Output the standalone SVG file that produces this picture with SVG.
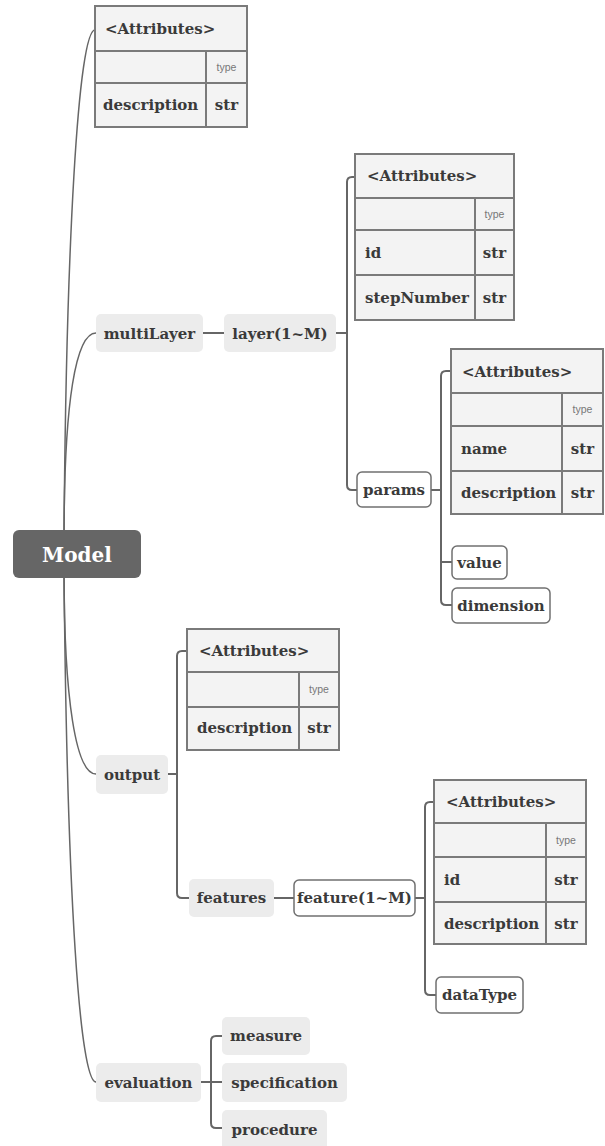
<svg xmlns="http://www.w3.org/2000/svg" width="605" height="1146" viewBox="0 0 605 1146">
<style>
.t{font-family:"DejaVu Serif","Liberation Serif",serif;font-weight:bold;font-size:15px;fill:#3a3a3a}
.c{text-anchor:middle}
.ty{font-family:"Liberation Sans","DejaVu Sans",sans-serif;font-size:10.5px;fill:#777;text-anchor:middle}
.tb{fill:#f3f3f3;stroke:#7a7a7a;stroke-width:2}
.tl{stroke:#7a7a7a;stroke-width:2;fill:none}
.g{fill:#ececec}
.w{fill:#fff;stroke:#707070;stroke-width:1.5}
.ln{fill:none;stroke:#666;stroke-width:2}
.sp{fill:none;stroke:#666;stroke-width:1.5}
</style>
<rect width="605" height="1146" fill="#fff"/>
<g id="connectors">
<path class="sp" d="M64 540 C66 250 78 30 95 30"/>
<path class="sp" d="M64 540 C64 400 76 333 96 333"/>
<path class="sp" d="M64 570 C64 700 76 774 96 774"/>
<path class="sp" d="M64 570 C67 900 80 1082 96 1082"/>
<path class="ln" d="M203 333 H224"/>
<path class="ln" d="M336 333 H347"/>
<path class="ln" d="M355 177 H352 Q347 177 347 182 V485 Q347 490 352 490 H357"/>
<path class="ln" d="M431 490 H441"/>
<path class="ln" d="M451 371 H446 Q441 371 441 376 V600 Q441 605 446 605 H452"/>
<path class="ln" d="M441 562 H452"/>
<path class="ln" d="M168 774 H177"/>
<path class="ln" d="M187 651 H182 Q177 651 177 656 V893 Q177 898 182 898 H189"/>
<path class="ln" d="M274 898 H294"/>
<path class="ln" d="M415 898 H425"/>
<path class="ln" d="M434 802 H430 Q425 802 425 807 V990 Q425 995 430 995 H436"/>
<path class="ln" d="M201 1082 H222"/>
<path class="ln" d="M222 1036 H216 Q211 1036 211 1041 V1123 Q211 1128 216 1128 H222"/>
</g>
<g id="model">
<rect x="13" y="530" width="128" height="48" rx="6" fill="#666"/>
<text x="77" y="562" class="t c" style="font-size:20px;fill:#fff">Model</text>
</g>
<g id="attrs-model">
<rect class="tb" x="95" y="6" width="152" height="121"/>
<path class="tl" d="M95 51 H247 M95 83 H247 M206 51 V127"/>
<text class="t" x="105" y="34">&lt;Attributes&gt;</text>
<text class="ty" x="226.5" y="71">type</text>
<text class="t" x="103" y="110">description</text>
<text class="t c" x="226.5" y="110">str</text>
</g>
<g id="multiLayer">
<rect class="g" x="96" y="314" width="107" height="38" rx="5"/>
<text class="t c" x="149.5" y="339">multiLayer</text>
</g>
<g id="layer">
<rect class="g" x="224" y="314" width="112" height="38" rx="5"/>
<text class="t c" x="280" y="339">layer(1~M)</text>
</g>
<g id="attrs-layer">
<rect class="tb" x="355" y="154" width="159" height="166"/>
<path class="tl" d="M355 198 H514 M355 230 H514 M355 275 H514 M475 198 V320"/>
<text class="t" x="367" y="181">&lt;Attributes&gt;</text>
<text class="ty" x="494.5" y="218">type</text>
<text class="t" x="365" y="258">id</text>
<text class="t c" x="494.5" y="258">str</text>
<text class="t" x="365" y="303">stepNumber</text>
<text class="t c" x="494.5" y="303">str</text>
</g>
<g id="params">
<rect class="w" x="357" y="472" width="74" height="35" rx="5"/>
<text class="t c" x="394" y="495">params</text>
</g>
<g id="attrs-params">
<rect class="tb" x="451" y="349" width="152" height="165"/>
<path class="tl" d="M451 393 H603 M451 426 H603 M451 471 H603 M562 393 V514"/>
<text class="t" x="462" y="377">&lt;Attributes&gt;</text>
<text class="ty" x="582.5" y="413">type</text>
<text class="t" x="461" y="454">name</text>
<text class="t c" x="582.5" y="454">str</text>
<text class="t" x="461" y="498">description</text>
<text class="t c" x="582.5" y="498">str</text>
</g>
<g id="value">
<rect class="w" x="452" y="546" width="55" height="33" rx="5"/>
<text class="t c" x="479.5" y="568">value</text>
</g>
<g id="dimension">
<rect class="w" x="452" y="588" width="98" height="35" rx="5"/>
<text class="t c" x="501" y="611">dimension</text>
</g>
<g id="output">
<rect class="g" x="96" y="755" width="72" height="39" rx="5"/>
<text class="t c" x="132" y="780">output</text>
</g>
<g id="attrs-output">
<rect class="tb" x="187" y="629" width="152" height="121"/>
<path class="tl" d="M187 672 H339 M187 707 H339 M299 672 V750"/>
<text class="t" x="199" y="656">&lt;Attributes&gt;</text>
<text class="ty" x="319" y="693">type</text>
<text class="t" x="197" y="733">description</text>
<text class="t c" x="319" y="733">str</text>
</g>
<g id="features">
<rect class="g" x="189" y="879" width="85" height="38" rx="5"/>
<text class="t c" x="231.5" y="903">features</text>
</g>
<g id="feature">
<rect class="w" x="294" y="880" width="121" height="36" rx="5"/>
<text class="t c" x="354.5" y="903">feature(1~M)</text>
</g>
<g id="attrs-feature">
<rect class="tb" x="434" y="780" width="152" height="164"/>
<path class="tl" d="M434 823 H586 M434 857 H586 M434 902 H586 M546 823 V944"/>
<text class="t" x="446" y="807">&lt;Attributes&gt;</text>
<text class="ty" x="566" y="844">type</text>
<text class="t" x="444" y="885">id</text>
<text class="t c" x="566" y="885">str</text>
<text class="t" x="444" y="929">description</text>
<text class="t c" x="566" y="929">str</text>
</g>
<g id="dataType">
<rect class="w" x="436" y="977" width="87" height="36" rx="5"/>
<text class="t c" x="479.5" y="1000">dataType</text>
</g>
<g id="evaluation">
<rect class="g" x="96" y="1063" width="105" height="39" rx="5"/>
<text class="t c" x="148.5" y="1088">evaluation</text>
</g>
<g id="measure">
<rect class="g" x="222" y="1017" width="88" height="38" rx="5"/>
<text class="t c" x="266" y="1041">measure</text>
</g>
<g id="specification">
<rect class="g" x="222" y="1063" width="125" height="39" rx="5"/>
<text class="t c" x="284.5" y="1088">specification</text>
</g>
<g id="procedure">
<rect class="g" x="222" y="1110" width="105" height="40" rx="5"/>
<text class="t c" x="274.5" y="1135">procedure</text>
</g>
</svg>
